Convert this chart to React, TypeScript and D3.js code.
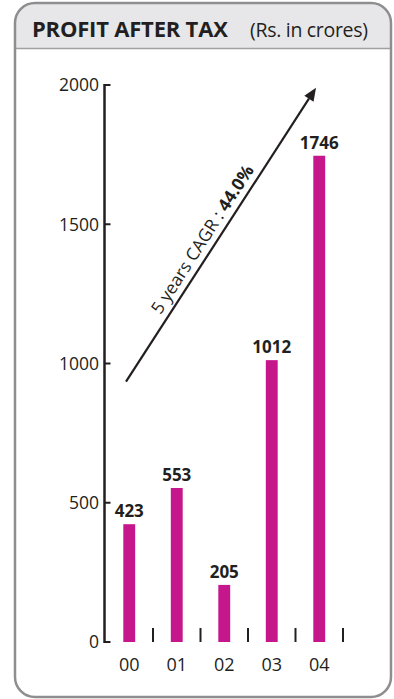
import React from "react";
import * as d3 from "d3";

// Profit after tax, Rs. in crores
const years: string[] = ["00", "01", "02", "03", "04"];
const profit: number[] = [423, 553, 205, 1012, 1746];
const yTicks: number[] = [0, 500, 1000, 1500, 2000];
const cagrLabel = "5 years CAGR : ";
const cagrValue = "44.0%";

const W = 394;
const H = 699;
const FONT = "'Open Sans', 'Noto Sans', sans-serif";
const INK = "#231f20";
const BAR = "#c5178b";

export default function App() {
  const axisX = 104.5;
  const y = d3.scaleLinear().domain([0, 2000]).range([642, 85]);
  const x = d3.scaleBand<string>().domain(years).range([105.5, 343]).paddingInner(0.75).paddingOuter(0.375);
  const bw = x.bandwidth();
  const step = x.step();

  // growth arrow, expressed in chart units
  const a0 = { x: 126, y: y(935) };
  const a1 = { x: 316, y: y(1990) };
  const ang = Math.atan2(a1.y - a0.y, a1.x - a0.x);
  const angDeg = (ang * 180) / Math.PI;
  const head = 13;
  const hw = 5.5;
  const ux = Math.cos(ang), uy = Math.sin(ang);
  const hb = { x: a1.x - ux * head, y: a1.y - uy * head };
  const headPts = [
    [a1.x, a1.y],
    [hb.x - uy * hw, hb.y + ux * hw],
    [hb.x + uy * hw, hb.y - ux * hw],
  ];
  const mid = { x: a0.x + (a1.x - a0.x) * 0.46, y: a0.y + (a1.y - a0.y) * 0.46 };

  return (
    <svg width={W} height={H} style={{ position: "absolute", left: 0, top: 0 }}>
      <rect x={0} y={0} width={W} height={H} fill="#ffffff" />
      {/* header band */}
      <path
        d="M15,48 L15,23 Q15,3 35,3 L371,3 Q391,3 391,23 L391,48 Z"
        fill="#e7e7e9"
      />
      <line x1={15} x2={391} y1={48.5} y2={48.5} stroke="#a0a0a2" strokeWidth={1.5} />
      <rect x={15} y={3} width={376} height={694} rx={20} ry={20} fill="none" stroke="#8e8e90" strokeWidth={2.5} />
      <text x={32} y={37} fontFamily={FONT} fontWeight={700} fontSize={22} fill={INK} letterSpacing={-0.2}>
        PROFIT AFTER TAX
      </text>
      <text x={250} y={37} fontFamily={FONT} fontSize={19.5} fill={INK} letterSpacing={-0.3}>
        (Rs. in crores)
      </text>

      {/* y axis */}
      <line x1={axisX} x2={axisX} y1={y(2000) - 1} y2={y(0) + 1} stroke={INK} strokeWidth={2.5} />
      {yTicks.map((t) => (
        <g key={t}>
          <line x1={axisX} x2={axisX + 6} y1={y(t)} y2={y(t)} stroke={INK} strokeWidth={2} />
          <text x={99} y={y(t)} dy="0.36em" textAnchor="end" fontFamily={FONT} fontSize={17.5} fill={INK}>
            {t}
          </text>
        </g>
      ))}

      {/* bars */}
      {profit.map((v, i) => {
        const bx = x(years[i])!;
        return (
          <g key={years[i]}>
            <rect x={bx} y={y(v)} width={bw} height={y(0) - y(v)} fill={BAR} />
            <text x={bx + bw / 2} y={y(v) - 7} textAnchor="middle" fontFamily={FONT} fontWeight={700} fontSize={17} fill={INK}>
              {v}
            </text>
            <line
              x1={bx + bw / 2 + step / 2}
              x2={bx + bw / 2 + step / 2}
              y1={y(0) - 14}
              y2={y(0)}
              stroke={INK}
              strokeWidth={2}
            />
            <text x={bx + bw / 2} y={671} textAnchor="middle" fontFamily={FONT} fontSize={18} fill={INK}>
              {years[i]}
            </text>
          </g>
        );
      })}

      {/* CAGR arrow */}
      <line x1={a0.x} y1={a0.y} x2={hb.x} y2={hb.y} stroke={INK} strokeWidth={2.2} />
      <polygon points={headPts.map((p) => p.join(",")).join(" ")} fill={INK} />
      <text
        transform={`translate(${mid.x},${mid.y}) rotate(${angDeg}) translate(0,-7)`}
        textAnchor="middle"
        fontFamily={FONT}
        fontSize={17.5}
        fill={INK}
      >
        {cagrLabel}
        <tspan fontWeight={700}>{cagrValue}</tspan>
      </text>
    </svg>
  );
}
